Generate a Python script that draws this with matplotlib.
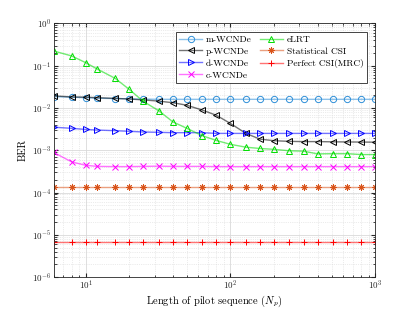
import matplotlib
matplotlib.use('Agg')
import matplotlib.pyplot as plt
from matplotlib.colors import to_rgba
from matplotlib.ticker import NullFormatter

plt.rcParams['font.family'] = 'serif'
plt.rcParams['font.serif'] = ['cmr10', 'DejaVu Serif']
plt.rcParams['mathtext.fontset'] = 'cm'
plt.rcParams['axes.formatter.use_mathtext'] = True

# pilot sequence lengths
Np = [6, 8, 10, 12, 16, 20, 25, 32, 40, 50, 64, 80, 100, 128, 160, 200,
      256, 320, 400, 512, 640, 800, 1000]

m_wcnde = [0.0185, 0.018, 0.0175, 0.017, 0.0167, 0.0164, 0.0162, 0.016,
           0.016, 0.016, 0.016, 0.016, 0.016, 0.016, 0.016, 0.016,
           0.016, 0.016, 0.016, 0.016, 0.016, 0.016, 0.016]
p_wcnde = [0.0193, 0.0182, 0.018, 0.0175, 0.0168, 0.0163, 0.0155, 0.0145,
           0.0133, 0.0116, 0.0089, 0.0067, 0.0043, 0.0025, 0.00183, 0.00168,
           0.00162, 0.0016, 0.0016, 0.00158, 0.00157, 0.00156, 0.00155]
d_wcnde = [0.0035, 0.0033, 0.0031, 0.003, 0.0029, 0.0028, 0.0027, 0.00265,
           0.0026, 0.0026, 0.0026, 0.0025, 0.0025, 0.0025, 0.0025, 0.0025,
           0.0025, 0.0025, 0.0025, 0.0025, 0.0025, 0.0025, 0.0025]
c_wcnde = [8.9e-4, 5.3e-4, 4.4e-4, 4.15e-4, 4.1e-4, 4.1e-4, 4.15e-4, 4.2e-4,
           4.15e-4, 4.15e-4, 4.15e-4, 4.1e-4, 4.1e-4, 4.1e-4, 4.1e-4, 4.1e-4,
           4.1e-4, 4.1e-4, 4.1e-4, 4.1e-4, 4.1e-4, 4.1e-4, 4.1e-4]
elrt = [0.223, 0.17, 0.118, 0.0836, 0.050, 0.0275, 0.0143, 0.0086,
        0.0047, 0.0033, 0.0022, 0.0017, 0.00138, 0.00118, 0.0011, 0.00105,
        0.00097, 0.00095, 0.00082, 0.00083, 0.00083, 0.00079, 0.00079]
stat_csi = [1.38e-4] * len(Np)
perfect_csi = [6.6e-6] * len(Np)

series = [
    ('m-WCNDe', m_wcnde, '#2f8fd8', 'o'),
    ('p-WCNDe', p_wcnde, '#000000', '<'),
    ('d-WCNDe', d_wcnde, '#0000ff', '>'),
    ('c-WCNDe', c_wcnde, '#ff00ff', 'x'),
    ('eLRT', elrt, '#00dd00', '^'),
    ('Statistical CSI', stat_csi, '#d95319', (8, 2, 0)),
    ('Perfect CSI(MRC)', perfect_csi, '#ff0000', '+'),
]

fig = plt.figure(figsize=(4.15, 3.12), dpi=100)
ax = fig.add_axes([0.129, 0.112, 0.775, 0.813])

for label, y, col, mk in series:
    ax.plot(Np, y, color=to_rgba(col, 0.55), lw=1.0, marker=mk, ms=4.5,
            mec=col, mfc='none', mew=0.7, label=label)

ax.set_xscale('log')
ax.set_yscale('log')
ax.set_xlim(6, 1000)
ax.set_ylim(1e-6, 1)
ax.xaxis.set_minor_formatter(NullFormatter())
ax.yaxis.set_minor_formatter(NullFormatter())

ax.grid(True, which='major', color='#d9d9d9', lw=0.6)
ax.grid(True, which='minor', color='#d9d9d9', lw=0.5, ls=':')
ax.set_axisbelow(True)
ax.tick_params(which='both', direction='in', top=True, right=True,
               labelsize=6.5, colors='#262626', pad=1.5)
ax.tick_params(which='major', length=3)
ax.tick_params(which='minor', length=1.8)
for s in ax.spines.values():
    s.set_color('#262626')
    s.set_linewidth(0.6)

ax.set_xlabel('Length of pilot sequence ($N_p$)', fontsize=7.5, labelpad=1)
ax.set_ylabel('BER', fontsize=7.5, labelpad=3)

leg = ax.legend(ncol=2, loc='upper right', fontsize=6.8, frameon=True,
                fancybox=False, edgecolor='#262626', framealpha=1,
                borderaxespad=0.9, handlelength=2.4, handletextpad=0.4,
                columnspacing=0.9, labelspacing=0.35, borderpad=0.35)
leg.get_frame().set_linewidth(0.6)

fig.savefig('out.png', dpi=100)
